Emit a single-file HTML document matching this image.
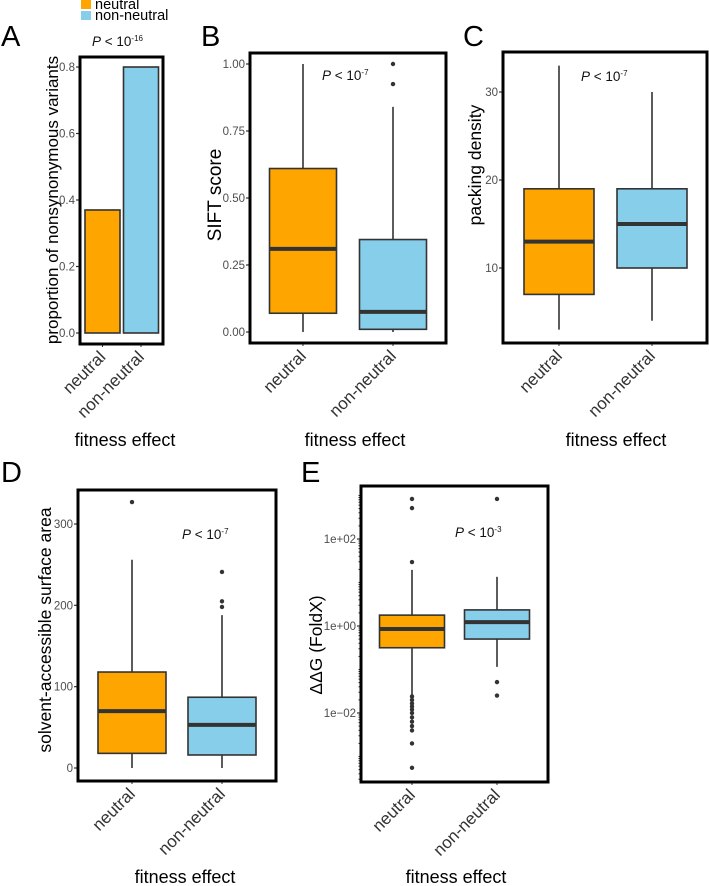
<!DOCTYPE html>
<html><head><meta charset="utf-8"><style>
html,body{margin:0;padding:0;background:#fff;}
svg{display:block;font-family:"Liberation Sans",sans-serif;}
</style></head><body>
<svg id="fig" width="709" height="886" viewBox="0 0 709 886"></svg>
<script>
const categories = ["neutral","non-neutral"];
const colors = ["#FFA500","#87CEEB"];
// Panel A
const propValues = [0.37, 0.80];
const aTicks = [0, 0.2, 0.4, 0.6, 0.8];
const aTickLabels = ["0.0","0.2","0.4","0.6","0.8"];
// Panel B: [low, q1, median, q3, high]
const siftStats = [[0,0.07,0.31,0.61,1.0],[0,0.01,0.075,0.345,0.84]];
const siftOutliers = [[],[1.0,0.925]];
const bTicks = [0,0.25,0.5,0.75,1.0];
const bTickLabels = ["0.00","0.25","0.50","0.75","1.00"];
// Panel C
const packStats = [[3,7,13,19,33],[4,10,15,19,30]];
const packOutliers = [[],[]];
const cTicks = [10,20,30];
const cTickLabels = ["10","20","30"];
// Panel D
const sasaStats = [[0,18,70,118,256],[0,16,53,87,188]];
const sasaOutliers = [[327],[198,205,241]];
const dTicks = [0,100,200,300];
const dTickLabels = ["0","100","200","300"];
// Panel E (log10 values)
const ddgStats = [[-1.6,-0.5,-0.07,0.25,1.29],[-0.94,-0.3,0.09,0.37,1.13]];
const ddgOutliers = [[2.92,2.71,1.47,-1.62,-1.7,-1.78,-1.85,-1.92,-2.0,-2.1,-2.2,-2.3,-2.4,-2.7,-3.26],[2.92,-1.29,-1.6]];
const eTicks = [-2,0,2];
const eTickLabels = ["1e\u221202","1e+00","1e+02"];

const svg = document.getElementById('fig');
const NS = 'http://www.w3.org/2000/svg';
function mk(tag, attrs, parent){
  const e = document.createElementNS(NS, tag);
  for (const k in attrs) e.setAttribute(k, attrs[k]);
  (parent||svg).appendChild(e);
  return e;
}
function txt(x,y,s,size,fill,anchor,extra){
  const t = mk('text',{x:x,y:y,'font-size':size,fill:fill,'text-anchor':anchor||'start'});
  if(extra) for(const k in extra) t.setAttribute(k,extra[k]);
  t.textContent = s;
  return t;
}
function scale(d0,d1,r0,r1){return v=>r0+(v-d0)*(r1-r0)/(d1-d0);}

function panel(o){
  const g = mk('g',{});
  
  
  const y = scale(o.d0,o.d1,o.r0,o.r1);
  const L = txt(o.lx,o.ly,o.letter,29,'#000','start'); g.appendChild(L);
  
  
  o.ticks.forEach((t,i)=>{
    const ty = y(t);
    mk('line',{x1:o.fx-4,x2:o.fx,y1:ty,y2:ty,stroke:'#333','stroke-width':1.2},g);
    const tl = txt(o.fx-5,ty+4,o.tickLabels[i],11.5,'#4d4d4d','end'); g.appendChild(tl);
    
    
  });
  if(o.minor) o.minor.forEach(v=>{
    const ty=y(v);
    if(ty>o.fy && ty<o.fy+o.fh) mk('line',{x1:o.fx-2.5,x2:o.fx,y1:ty,y2:ty,stroke:'#333','stroke-width':1},g);
  });
  const bw = o.bw;
  const fb = o.fy+o.fh;
  categories.forEach((c,i)=>{
    const cx = o.cx[i];
    if(o.bars){
      const top=y(o.bars[i]), bot=y(0);
      const r = mk('rect',{x:cx-bw/2,y:top,width:bw,height:bot-top,fill:colors[i],stroke:'#333','stroke-width':1.6},g);
      
      
    } else {
      const s = o.stats[i];
      const w = mk('line',{x1:cx,x2:cx,y1:y(s[0]),y2:y(s[4]),stroke:'#333','stroke-width':1.6},g);
      
      
      const r = mk('rect',{x:cx-bw/2,y:y(s[3]),width:bw,height:y(s[1])-y(s[3]),fill:colors[i],stroke:'#333','stroke-width':1.6},g);
      
      
      const m = mk('line',{x1:cx-bw/2,x2:cx+bw/2,y1:y(s[2]),y2:y(s[2]),stroke:'#333','stroke-width':4},g);
      
      
      o.outliers[i].forEach(v=>{
        const p = mk('circle',{cx:cx,cy:y(v),r:2.2,fill:'#333'},g);
        
        
      });
    }
    mk('line',{x1:cx,x2:cx,y1:fb,y2:fb+3,stroke:'#333','stroke-width':1},g);
    const ax = cx+4, ay = fb+14;
    const xl = txt(ax,ay,c,17,'#333','end',{transform:'rotate(-45 '+ax+' '+ay+')'}); g.appendChild(xl);
    
    
  });
  const f = mk('rect',{x:o.fx,y:o.fy,width:o.fw,height:o.fh,fill:'none',stroke:'#000','stroke-width':3},g);
  
  
  const p = mk('text',{x:o.px,y:o.py,'font-size':13.5,fill:'#111'},g);
  
  
  const t1 = mk('tspan',{'font-style':'italic'},p); t1.textContent='P';
  const t2 = mk('tspan',{},p); t2.textContent=' < 10';
  const t3 = mk('tspan',{dy:-5,'font-size':8},p); t3.textContent=o.pexp;
  const yt = txt(o.ytx,o.yty,o.ytitle,o.ys||17.5,'#000','middle',{transform:'rotate(-90 '+o.ytx+' '+o.yty+')'}); g.appendChild(yt);
  
  
  const xt = txt(o.xtx,o.xty,'fitness effect',18,'#000','middle'); g.appendChild(xt);
  
  
}

panel({name:'panel-a',letter:'A',lx:1,ly:46,fx:80,fy:57,fw:83,fh:287,d0:0,d1:0.8,r0:333,r1:67,
  ticks:aTicks,tickLabels:aTickLabels,bars:propValues,cx:[102.5,141],bw:35,px:92,py:46,pexp:'-16',
  ytitle:'proportion of nonsynonymous variants',ys:17,ytx:58,yty:200,xtx:125,xty:446});
panel({name:'panel-b',letter:'B',lx:201,ly:46,fx:250,fy:53,fw:196,fh:290,d0:0,d1:1,r0:332,r1:64,
  ticks:bTicks,tickLabels:bTickLabels,stats:siftStats,outliers:siftOutliers,cx:[303,393],bw:67,px:322,py:80,pexp:'-7',
  ytitle:'SIFT score',ys:19,ytx:221,yty:195,xtx:355,xty:446});
panel({name:'panel-c',letter:'C',lx:463,ly:46,fx:503,fy:52,fw:204,fh:291,d0:10,d1:30,r0:268,r1:92,
  ticks:cTicks,tickLabels:cTickLabels,stats:packStats,outliers:packOutliers,cx:[559,652],bw:70,px:581,py:81,pexp:'-7',
  ytitle:'packing density',ytx:481,yty:165,xtx:616,xty:446});
panel({name:'panel-d',letter:'D',lx:1,ly:482,fx:78,fy:490,fw:198,fh:291,d0:0,d1:300,r0:768,r1:524,
  ticks:dTicks,tickLabels:dTickLabels,stats:sasaStats,outliers:sasaOutliers,cx:[132,222],bw:68,px:182,py:539,pexp:'-7',
  ytitle:'solvent-accessible surface area',ytx:51,yty:630,xtx:185,xty:883});
const minorE=[];
for(let d=-4; d<=3; d++) for(let k=1;k<=9;k++) minorE.push(d+Math.log10(k));
panel({name:'panel-e',letter:'E',lx:301,ly:482,fx:361,fy:486,fw:187,fh:296,d0:0,d1:2,r0:626,r1:539,
  ticks:eTicks,tickLabels:eTickLabels,minor:minorE,stats:ddgStats,outliers:ddgOutliers,cx:[412,497],bw:65,px:455,py:537,pexp:'-3',
  ytitle:'\u0394\u0394G (FoldX)',ytx:322,yty:645,xtx:456,xty:883});

const lg = mk('g',{});


categories.forEach((c,i)=>{
  const r = mk('rect',{x:81,y:i*11,width:10,height:9,fill:colors[i]},lg);
  
  
  const t = txt(95,i*11+9,c,14.5,'#000','start'); lg.appendChild(t);
  
  
});
</script>
</body></html>
